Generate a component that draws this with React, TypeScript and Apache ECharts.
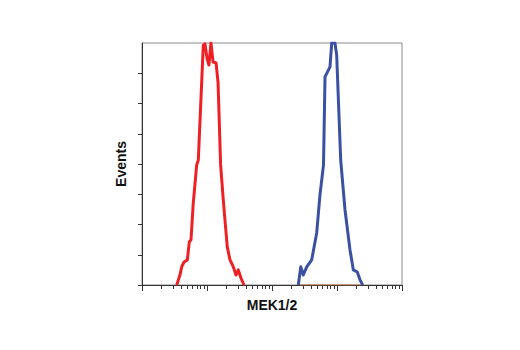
import React, { useEffect, useRef } from "react";
import * as echarts from "echarts";

// Flow cytometry histogram: MEK1/2 intensity (log scale) vs Events
const redX = [3.42, 3.84, 4.08, 4.43, 4.98, 5.34, 5.67, 6.15, 6.94, 7.35, 8.77, 9.31, 10.0, 10.7, 11.5, 12.4, 13.8, 14.8, 16.2, 17.8, 20.5, 22.6, 25.4, 27.9, 30.3, 33.3, 37.1];
const redY = [0, 0.33, 0.6, 0.76, 0.83, 1.42, 1.49, 2.71, 3.97, 4.13, 7.93, 7.97, 7.5, 7.27, 8.0, 7.37, 7.34, 6.68, 3.97, 2.81, 1.26, 0.83, 0.6, 0.33, 0.5, 0.23, 0];

const blueX = [254, 277, 303, 342, 408, 487, 547, 620, 654, 780, 829, 931, 989, 1140, 1328, 1585, 1782, 2051, 2259, 2485];
const blueY = [0, 0.6, 0.33, 0.6, 0.83, 1.72, 2.98, 3.97, 6.88, 7.21, 8.0, 8.0, 7.6, 4.13, 2.48, 1.16, 0.5, 0.43, 0.17, 0];

const controlX = [262, 2300];
const controlY = [0, 0];

const majorTicks = [1, 10, 100, 1000, 10000];
const minorMultipliers = [2, 3, 4, 5, 6, 7, 8, 9];
const yTicks = [0, 1, 2, 3, 4, 5, 6, 7];

const xTitle = "MEK1/2";
const yTitle = "Events";

function pairs(xs: number[], ys: number[]) {
  return xs.map((x, i) => [x, ys[i]]);
}

export default function App() {
  const ref = useRef<HTMLDivElement>(null);
  useEffect(() => {
    if (!ref.current) return;
    const chart = echarts.init(ref.current, undefined, { renderer: "svg" });
    const minorTicks: number[] = [];
    majorTicks.slice(0, -1).forEach((m) => minorMultipliers.forEach((k) => minorTicks.push(m * k)));
    const font = '"Liberation Sans Narrow", "Liberation Sans", Arial, sans-serif';
    chart.setOption({
      animation: false,
      grid: {
        left: 142,
        top: 43,
        width: 260,
        height: 242,
        show: true,
        borderColor: "#8a8a8a",
        borderWidth: 1,
        backgroundColor: "transparent",
      },
      xAxis: [
        {
          type: "log",
          logBase: 10,
          min: 1,
          max: 10000,
          name: xTitle,
          nameLocation: "middle",
          nameGap: 13,
          nameTextStyle: { fontFamily: font, fontWeight: "bold", fontSize: 14, color: "#111" },
          axisLine: { show: true, lineStyle: { color: "#333", width: 1 } },
          axisTick: { show: true, length: 4, customValues: minorTicks, lineStyle: { color: "#333" } },
          axisLabel: { show: false },
          splitLine: { show: false },
        },
        {
          type: "log",
          logBase: 10,
          min: 1,
          max: 10000,
          position: "bottom",
          axisLine: { show: false },
          axisTick: { show: true, length: 6, customValues: majorTicks, lineStyle: { color: "#333" } },
          axisLabel: { show: false },
          splitLine: { show: false },
        },
      ],
      yAxis: {
        type: "value",
        min: 0,
        max: 8,
        interval: 1,
        name: yTitle,
        nameLocation: "middle",
        nameGap: 14,
        nameRotate: 90,
        nameTextStyle: { fontFamily: font, fontWeight: "bold", fontSize: 14, color: "#111" },
        axisLine: { show: true, lineStyle: { color: "#333", width: 1 } },
        axisTick: { show: true, length: 4, customValues: yTicks, lineStyle: { color: "#333" } },
        axisLabel: { show: false },
        splitLine: { show: false },
      },
      series: [
        {
          type: "line",
          name: "control",
          data: pairs(controlX, controlY),
          showSymbol: false,
          lineStyle: { color: "#c8703a", width: 1.2 },
          z: 1,
        },
        {
          type: "line",
          name: "red",
          data: pairs(redX, redY),
          showSymbol: false,
          lineStyle: { color: "#ee2024", width: 3, join: "round" },
          z: 3,
        },
        {
          type: "line",
          name: "blue",
          data: pairs(blueX, blueY),
          showSymbol: false,
          lineStyle: { color: "#3a51a3", width: 3, join: "round" },
          z: 3,
        },
      ],
    });
    return () => chart.dispose();
  }, []);
  return (
    <div
      ref={ref}
      style={{ position: "absolute", left: 0, top: 0, width: 520, height: 350, background: "#fff" }}
    />
  );
}
